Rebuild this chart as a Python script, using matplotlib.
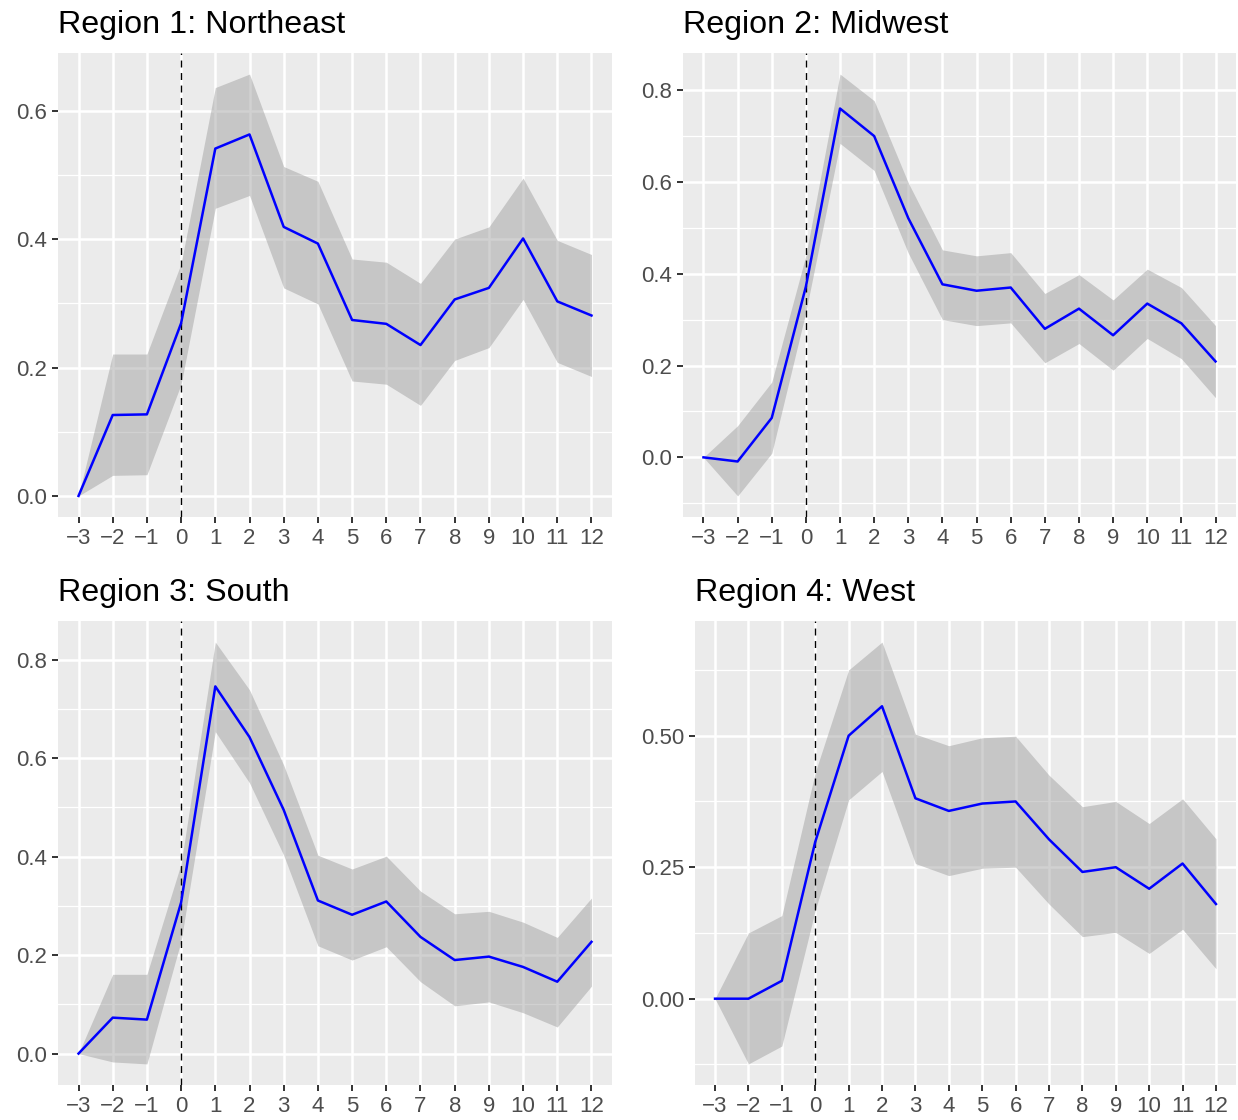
import numpy as np
import matplotlib.pyplot as plt
from matplotlib.ticker import FormatStrFormatter, FixedLocator

plt.rcParams['font.family'] = ['Liberation Sans', 'DejaVu Sans']

# event time (years relative to treatment)
event_time = np.arange(-3, 13)

titles = ['Region 1: Northeast', 'Region 2: Midwest', 'Region 3: South', 'Region 4: West']

# point estimates
est_northeast = [0.0, 0.126, 0.127, 0.269, 0.541, 0.563, 0.419, 0.393, 0.274, 0.268, 0.235, 0.306, 0.324, 0.401, 0.303, 0.281]
est_midwest = [0.0, -0.009, 0.086, 0.372, 0.760, 0.700, 0.521, 0.377, 0.363, 0.370, 0.280, 0.324, 0.266, 0.335, 0.292, 0.209]
est_south = [0.0, 0.073, 0.069, 0.307, 0.746, 0.643, 0.495, 0.311, 0.282, 0.309, 0.237, 0.190, 0.197, 0.176, 0.146, 0.227]
est_west = [0.0, 0.0, 0.034, 0.298, 0.500, 0.556, 0.381, 0.357, 0.371, 0.375, 0.303, 0.241, 0.250, 0.209, 0.257, 0.180]

# upper confidence bounds
hi_northeast = [0.0, 0.221, 0.221, 0.362, 0.636, 0.657, 0.513, 0.490, 0.369, 0.364, 0.331, 0.400, 0.419, 0.495, 0.398, 0.376]
hi_midwest = [0.0, 0.069, 0.164, 0.440, 0.835, 0.777, 0.598, 0.452, 0.439, 0.446, 0.357, 0.398, 0.343, 0.410, 0.370, 0.287]
hi_south = [0.0, 0.161, 0.161, 0.386, 0.836, 0.739, 0.586, 0.403, 0.375, 0.401, 0.330, 0.284, 0.289, 0.267, 0.236, 0.316]
hi_west = [0.0, 0.125, 0.158, 0.430, 0.625, 0.678, 0.503, 0.481, 0.496, 0.499, 0.425, 0.365, 0.375, 0.333, 0.380, 0.304]

# lower confidence bounds
lo_northeast = [0.0, 0.032, 0.033, 0.174, 0.448, 0.468, 0.324, 0.299, 0.179, 0.174, 0.141, 0.211, 0.231, 0.306, 0.208, 0.186]
lo_midwest = [0.0, -0.084, 0.009, 0.317, 0.684, 0.625, 0.445, 0.300, 0.287, 0.293, 0.206, 0.248, 0.190, 0.259, 0.215, 0.130]
lo_south = [0.0, -0.017, -0.021, 0.229, 0.654, 0.550, 0.403, 0.219, 0.190, 0.217, 0.146, 0.097, 0.105, 0.083, 0.054, 0.137]
lo_west = [0.0, -0.124, -0.090, 0.168, 0.378, 0.432, 0.257, 0.234, 0.248, 0.250, 0.180, 0.118, 0.126, 0.086, 0.132, 0.057]

estimates = [est_northeast, est_midwest, est_south, est_west]
uppers = [hi_northeast, hi_midwest, hi_south, hi_west]
lowers = [lo_northeast, lo_midwest, lo_south, lo_west]

y_breaks = [
    [0.0, 0.2, 0.4, 0.6],
    [0.0, 0.2, 0.4, 0.6, 0.8],
    [0.0, 0.2, 0.4, 0.6, 0.8],
    [0.0, 0.25, 0.5],
]
y_formats = ['%.1f', '%.1f', '%.1f', '%.2f']

W, H = 1238, 1120
# panel boxes in pixels: left, right, top, bottom
boxes = [
    (58, 612, 53, 517),
    (683, 1236, 53, 517),
    (58, 612, 621, 1085),
    (695, 1236, 621, 1085),
]

fig = plt.figure(figsize=(W / 100, H / 100), dpi=100)

for i in range(4):
    l, r, t, b = boxes[i]
    ax = fig.add_axes([l / W, 1 - b / H, (r - l) / W, (b - t) / H])
    ax.set_facecolor('#EBEBEB')
    for s in ax.spines.values():
        s.set_visible(False)

    lo = np.array(lowers[i])
    hi = np.array(uppers[i])
    ymin, ymax = lo.min(), hi.max()
    pad = 0.05 * (ymax - ymin)
    ax.set_xlim(-3.6, 12.6)
    ax.set_ylim(ymin - pad, ymax + pad)

    # grid
    brk = y_breaks[i]
    step = brk[1] - brk[0]
    minors = np.arange(brk[0] - step / 2, ymax + pad, step)
    for m in minors:
        ax.axhline(m, color='white', lw=0.9, zorder=0.5)
    for v in brk:
        ax.axhline(v, color='white', lw=1.8, zorder=0.6)
    for x in event_time:
        ax.axvline(x, color='white', lw=1.8, zorder=0.6)

    ax.fill_between(event_time, lo, hi, color='#999999', alpha=0.45, lw=0, zorder=1)
    ax.axvline(0, color='black', lw=1.0, ls=(0, (5, 4)), zorder=2)
    ax.plot(event_time, estimates[i], color='#0000FF', lw=1.8, zorder=3)

    ax.xaxis.set_major_locator(FixedLocator(event_time))
    ax.yaxis.set_major_locator(FixedLocator(brk))
    ax.yaxis.set_major_formatter(FormatStrFormatter(y_formats[i]))
    ax.tick_params(axis='both', length=4.5, width=1.4, color='#333333',
                   labelcolor='#4D4D4D', labelsize=16, pad=3.5)

    ax.set_title(titles[i], loc='left', fontsize=23.2, color='black', pad=14.5)

fig.savefig('out.png', dpi=100)
